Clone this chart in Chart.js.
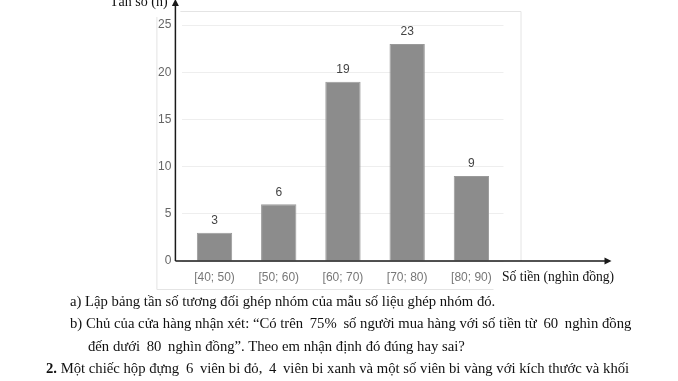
<!DOCTYPE html>
<html>
<head>
<meta charset="utf-8">
<script src="https://cdn.jsdelivr.net/npm/chart.js@4"></script>
<style>
  body { margin: 0; background: #fff; }
  #wrap { position: relative; width: 678px; height: 381px; overflow: hidden; }
  canvas { position: absolute; left: 0; top: 0; }
  .t { position: absolute; font-family: "Liberation Serif", serif; color: #111; white-space: nowrap; font-size: 14.7px; }
  .n { margin: 0 3px; }
</style>
</head>
<body>
<div id="wrap">
  <canvas id="chart" width="678" height="381"></canvas>
  <div class="t" style="left:110px; top:-6px; font-size:14px;">Tần số (n)</div>
  <div class="t" style="left:502px; top:269px; font-size:13.6px;">Số tiền (nghìn đồng)</div>
  <div class="t" style="left:70px; top:293px;">a) Lập bảng tần số tương đối ghép nhóm của mẫu số liệu ghép nhóm đó.</div>
  <div class="t" style="left:70px; top:315px;">b) Chủ của cửa hàng nhận xét: “Có trên <span class="n">75%</span> số người mua hàng với số tiền từ <span class="n">60</span> nghìn đồng</div>
  <div class="t" style="left:88px; top:338px;">đến dưới <span class="n">80</span> nghìn đồng”. Theo em nhận định đó đúng hay sai?</div>
  <div class="t" style="left:46px; top:360px;"><b>2.</b> Một chiếc hộp đựng <span class="n">6</span> viên bi đỏ, <span class="n">4</span> viên bi xanh và một số viên bi vàng với kích thước và khối</div>
</div>
<script>
const groups = ['[40; 50)', '[50; 60)', '[60; 70)', '[70; 80)', '[80; 90)'];
const counts = [3, 6, 19, 23, 9];
const yTicks = [0, 5, 10, 15, 20, 25];

// light frame + black axes with arrows + value labels
const decor = {
  id: 'decor',
  beforeDraw(c) {
    const ctx = c.ctx, a = c.chartArea;
    ctx.save();
    ctx.strokeStyle = '#e4e4e4';
    ctx.lineWidth = 1;
    ctx.beginPath();
    ctx.moveTo(a.left - 25.5, a.top - 8);
    ctx.lineTo(a.left - 25.5, a.bottom + 28.5);
    ctx.lineTo(a.right - 10, a.bottom + 28.5);
    ctx.moveTo(a.left - 2, a.top - 13.5);
    ctx.lineTo(a.right + 17.5, a.top - 13.5);
    ctx.lineTo(a.right + 17.5, a.bottom);
    ctx.stroke();
    ctx.restore();
  },
  afterDatasetsDraw(c) {
    const ctx = c.ctx, a = c.chartArea;
    const x0 = a.left - 7, y0 = c.scales.y.getPixelForValue(0);
    ctx.save();
    ctx.strokeStyle = '#1a1a1a';
    ctx.fillStyle = '#1a1a1a';
    ctx.lineWidth = 1.5;
    ctx.beginPath();
    ctx.moveTo(x0, y0);
    ctx.lineTo(x0, 4);
    ctx.moveTo(x0, y0);
    ctx.lineTo(a.right + 102, y0);
    ctx.stroke();
    ctx.beginPath();
    ctx.moveTo(x0, -1); ctx.lineTo(x0 - 3.5, 6); ctx.lineTo(x0 + 3.5, 6); ctx.closePath();
    ctx.fill();
    ctx.beginPath();
    ctx.moveTo(a.right + 108, y0); ctx.lineTo(a.right + 101, y0 - 3.5); ctx.lineTo(a.right + 101, y0 + 3.5); ctx.closePath();
    ctx.fill();

    ctx.fillStyle = '#444';
    ctx.font = '12px "Liberation Sans", Arial, sans-serif';
    ctx.textAlign = 'center';
    ctx.textBaseline = 'middle';
    c.getDatasetMeta(0).data.forEach((bar, i) => {
      ctx.fillText(String(counts[i]), bar.x, bar.y - 12);
    });
    ctx.restore();
  }
};

new Chart(document.getElementById('chart'), {
  type: 'bar',
  data: {
    labels: groups,
    datasets: [{
      data: counts,
      backgroundColor: '#8c8c8c',
      borderColor: '#9a9a9a',
      borderWidth: 1,
      categoryPercentage: 1,
      barPercentage: 0.55
    }]
  },
  options: {
    responsive: false,
    animation: false,
    devicePixelRatio: 1,
    layout: { padding: { left: 0, top: 25, right: 174.5, bottom: 90 } },
    plugins: { legend: { display: false }, tooltip: { enabled: false } },
    scales: {
      x: {
        grid: { display: false, drawTicks: false },
        border: { display: false },
        ticks: { color: '#777', font: { family: '"Liberation Sans", Arial, sans-serif', size: 12 }, padding: 9, maxRotation: 0 },
        afterFit(s) { s.height = 30; }
      },
      y: {
        min: 0,
        max: 25,
        afterBuildTicks(s) { s.ticks = yTicks.map(v => ({ value: v })); },
        grid: { color: '#eeeeee', drawTicks: false },
        border: { display: false },
        ticks: { color: '#666', font: { family: '"Liberation Sans", Arial, sans-serif', size: 12 }, padding: 11 },
        afterFit(s) { s.width = 182.4; }
      }
    }
  },
  plugins: [decor]
});
</script>
</body>
</html>
